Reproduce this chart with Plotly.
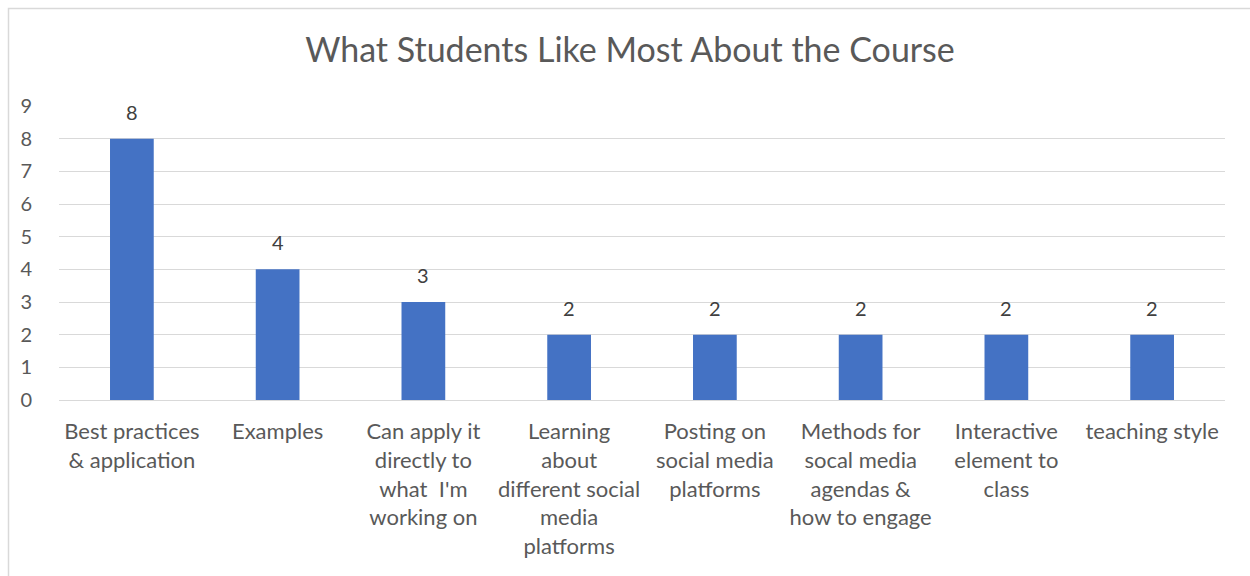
import plotly.graph_objects as go

categories = [
    "Best practices<br>& application",
    "Examples",
    "Can apply it<br>directly to<br>what  I'm<br>working on",
    "Learning<br>about<br>different social<br>media<br>platforms",
    "Posting on<br>social media<br>platforms",
    "Methods for<br>socal media<br>agendas &<br>how to engage",
    "Interactive<br>element to<br>class",
    "teaching style",
]
values = [8, 4, 3, 2, 2, 2, 2, 2]
y_ticks = [0, 1, 2, 3, 4, 5, 6, 7, 8, 9]

FONT = "Lato"
GRAY = "#595959"

fig = go.Figure(
    go.Bar(
        x=categories,
        y=values,
        marker=dict(color="#4472C4", line=dict(width=0)),
        cliponaxis=False,
        hoverinfo="skip",
    )
)

annotations = [
    dict(x=c, y=v, xref="x", yref="y", text=str(v), showarrow=False,
         yanchor="middle", xanchor="center", yshift=27,
         font=dict(family=FONT, size=20, color="#404040"))
    for c, v in zip(categories, values)
]

W, H = 1250, 576
L, R, T, B = 59, 25, 106, 176
pw, ph = W - L - R, H - T - B

def px_to_paper_x(px):
    return (px - L) / pw

def px_to_paper_y(py):
    return (H - B - py) / ph

fig.update_layout(
    width=W,
    height=H,
    paper_bgcolor="white",
    plot_bgcolor="white",
    margin=dict(l=L, r=R, t=T, b=B, autoexpand=False),
    bargap=0.70,
    showlegend=False,
    title=dict(
        text="What Students Like Most About the Course",
        x=px_to_paper_x(630), xref="paper", xanchor="center",
        y=1 - 50 / H, yanchor="middle",
        font=dict(family=FONT, size=34, color=GRAY),
    ),
    font=dict(family=FONT, color=GRAY),
    annotations=annotations,
    shapes=[
        dict(type="path", xref="paper", yref="paper",
             path=(f"M {px_to_paper_x(8.5)} {px_to_paper_y(H + 5)} "
                   f"L {px_to_paper_x(8.5)} {px_to_paper_y(8.5)} "
                   f"L {px_to_paper_x(W + 5)} {px_to_paper_y(8.5)}"),
             line=dict(color="#d9d9d9", width=1.5), layer="below"),
    ],
)

fig.update_xaxes(
    showgrid=False,
    showline=True, linecolor="#d9d9d9", linewidth=1,
    ticks="outside", ticklen=12, tickcolor="rgba(0,0,0,0)",
    tickfont=dict(family=FONT, size=22, color=GRAY),
    tickangle=0,
)
fig.update_yaxes(
    range=[0, 9],
    tickvals=y_ticks,
    showgrid=True, gridcolor="#d9d9d9", gridwidth=1,
    zeroline=True, zerolinecolor="#d9d9d9", zerolinewidth=1,
    showline=False,
    ticks="outside", ticklen=22, tickcolor="rgba(0,0,0,0)",
    tickfont=dict(family=FONT, size=20, color=GRAY),
)

fig.write_html(
    "out.html",
    config={"displayModeBar": False},
    post_script="document.body.style.margin='0';document.body.style.overflow='hidden';",
)
